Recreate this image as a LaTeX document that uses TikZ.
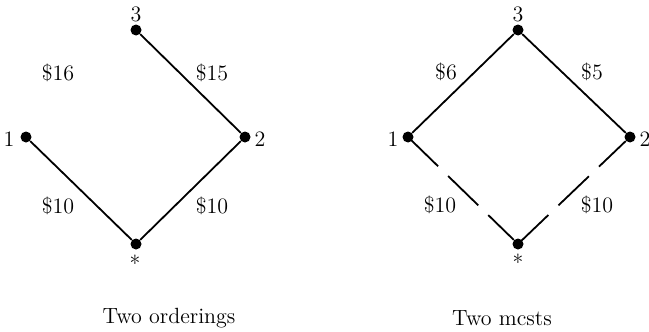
\documentclass[tikz,border=0pt]{standalone}
\begin{document}
\begin{tikzpicture}[x=0.5pt,y=-0.5pt,
  dot/.style={circle,fill=black,inner sep=0pt,minimum size=5.5pt},
  lbl/.style={inner sep=0pt,font=\fontsize{11}{13}\selectfont},
  edge/.style={line width=0.9pt},
  brk/.style={line width=0.9pt,dash pattern=on 21pt off 7pt}]
\useasboundingbox (0,0) rectangle (649,332);
% left graph
\node[dot] (a3) at (136,30) {};
\node[dot] (a1) at (26,137) {};
\node[dot] (a2) at (245,137) {};
\node[dot] (as) at (136,244) {};
\node[lbl] (la3) at (136,14) {3};
\node[lbl] (la1) at (9,139) {1};
\node[lbl] (la2) at (260,139) {2};
\node[lbl] (las) at (135,263) {*};
\draw[edge] (a3) -- (a2);
\draw[edge] (a2) -- (as);
\draw[edge] (a1) -- (as);
\node[lbl] (c16) at (58,73) {\$16};
\node[lbl] (c15) at (212,73) {\$15};
\node[lbl] (c10a) at (58,206) {\$10};
\node[lbl] (c10b) at (212,206) {\$10};
\node[lbl] (cap1) at (169,318) {Two orderings};
% right graph
\node[dot] (b3) at (518,30) {};
\node[dot] (b1) at (408,137) {};
\node[dot] (b2) at (630,137) {};
\node[dot] (bs) at (518,244) {};
\node[lbl] (lb3) at (518,14) {3};
\node[lbl] (lb1) at (393,139) {1};
\node[lbl] (lb2) at (645,139) {2};
\node[lbl] (lbs) at (518,262) {*};
\draw[edge] (b1) -- (b3);
\draw[edge] (b3) -- (b2);
\draw[brk] (b1.center) -- (bs);
\draw[brk] (bs.center) -- (b2);
\node[lbl] (c6) at (446,72) {\$6};
\node[lbl] (c5) at (592,72) {\$5};
\node[lbl] (c10c) at (440,205) {\$10};
\node[lbl] (c10d) at (597,205) {\$10};
\node[lbl] (cap2) at (502,318) {Two mcsts};
\end{tikzpicture}
\end{document}
